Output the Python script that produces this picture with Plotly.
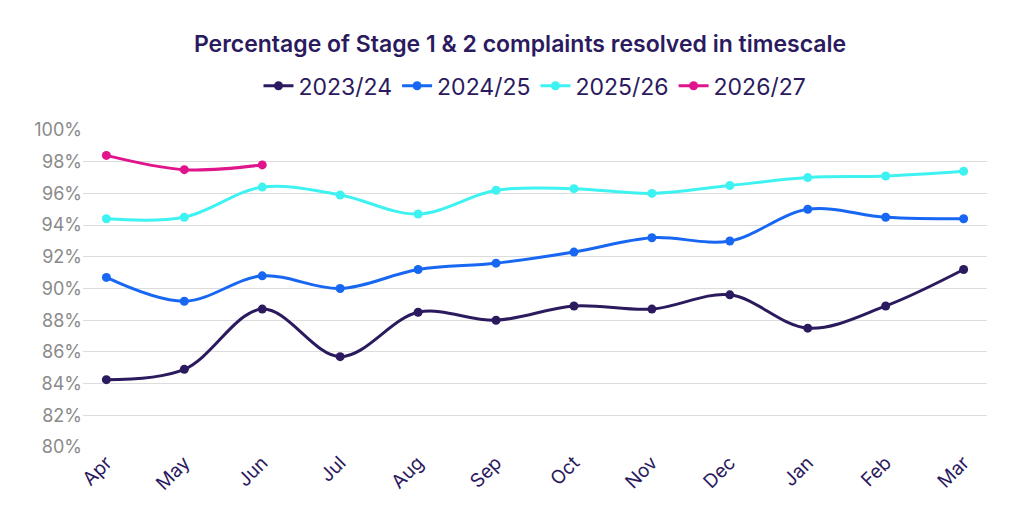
import plotly.graph_objects as go

months = ["Apr", "May", "Jun", "Jul", "Aug", "Sep", "Oct", "Nov", "Dec", "Jan", "Feb", "Mar"]
fy_2324 = [84.25, 84.9, 88.7, 85.7, 88.5, 88.0, 88.9, 88.7, 89.6, 87.5, 88.9, 91.2]
fy_2425 = [90.7, 89.2, 90.8, 90.0, 91.2, 91.6, 92.3, 93.2, 93.0, 95.0, 94.5, 94.4]
fy_2526 = [94.4, 94.5, 96.4, 95.9, 94.7, 96.2, 96.3, 96.0, 96.5, 97.0, 97.1, 97.4]
fy_2627 = [98.4, 97.5, 97.8]

series = [
    ("2023/24", fy_2324, "#2b1a5e"),
    ("2024/25", fy_2425, "#1767f2"),
    ("2025/26", fy_2526, "#3ff2f2"),
    ("2026/27", fy_2627, "#e0158c"),
]

fig = go.Figure()
for name, vals, color in series:
    fig.add_trace(go.Scatter(
        x=months[:len(vals)], y=[v / 100 for v in vals],
        mode="lines+markers", name=name,
        line=dict(color=color, width=3, shape="spline", smoothing=1),
        marker=dict(size=9, color=color),
    ))

fig.update_layout(
    width=1024, height=512,
    title=dict(text="Percentage of Stage 1 & 2 complaints resolved in timescale",
               x=0.5, xanchor="center", yref="container", y=0.93, yanchor="middle",
               font=dict(size=23, color="#2b1a5e", weight=600)),
    font=dict(family="Inter, sans-serif", color="#8a8a8a"),
    paper_bgcolor="white", plot_bgcolor="white",
    legend=dict(orientation="h", x=0.5, xanchor="center", yref="container", y=0.848,
                yanchor="middle", font=dict(size=23, color="#2b1a5e")),
    margin=dict(l=75, r=45, t=115, b=73),
    xaxis=dict(tickangle=-45, tickfont=dict(size=19, color="#2b1a5e"), showgrid=False,
               range=[-0.3, 11.3]),
    yaxis=dict(range=[0.8, 1.0], dtick=0.02, tickformat=".0%", gridcolor="#dcdcdc",
               tickfont=dict(size=18, color="#8a8a8a"), zeroline=False),
)

fig.write_html("out.html")
